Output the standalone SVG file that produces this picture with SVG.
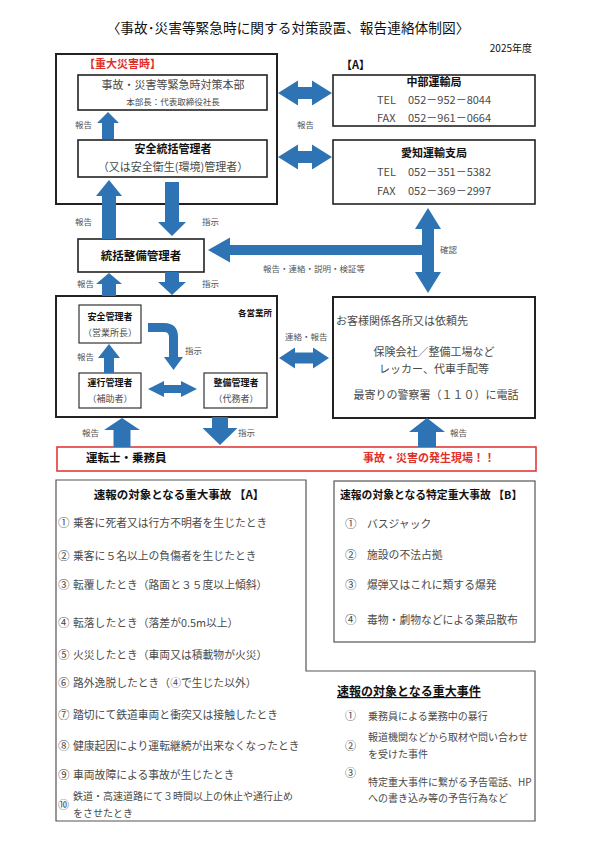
<svg xmlns="http://www.w3.org/2000/svg" width="595" height="841" viewBox="0 0 595 841">
<style>
text{font-family:"Noto Sans CJK JP","Noto Sans",sans-serif;fill:#4a4a4a;}
.b{font-weight:bold;fill:#111;}
.r{font-weight:bold;fill:#e0302a;}
.c{text-anchor:middle;}
.lbl{font-size:8.5px;fill:#555;}
.it{font-size:10.8px;}
.num{font-size:11.5px;}
.box{fill:#fff;stroke:#222;stroke-width:2;}
.ibox{fill:#fff;stroke:#222;stroke-width:1.6;}
.sbox{fill:#fff;stroke:#333;stroke-width:1.2;}
.gbox{fill:#fff;stroke:#555;stroke-width:1.2;}
.arr{fill:#2e74b5;stroke:none;}
</style>
<rect width="595" height="841" fill="#fff"/>
<text x="288" y="33" class="c" style="font-size:13.7px;fill:#111">〈事故･災害等緊急時に関する対策設置、報告連絡体制図〉</text>
<text x="532" y="52" style="font-size:10px;fill:#111;text-anchor:end">2025年度</text>

<g id="hq-group">
<rect class="box" x="56" y="54" width="221" height="150"/>
<text x="84" y="68" class="r" style="font-size:11px">【重大災害時】</text>
</g>
<g id="taisaku-honbu">
<rect class="ibox" x="78" y="75" width="189" height="35"/>
<text x="173" y="89" class="c" style="font-size:11px">事故・災害等緊急時対策本部</text>
<text x="173" y="105" class="c" style="font-size:8.5px">本部長：代表取締役社長</text>
</g>
<g id="anzen-tokatsu">
<rect class="ibox" x="78" y="140" width="189" height="37"/>
<text x="173" y="153" class="c b" style="font-size:11px">安全統括管理者</text>
<text x="173" y="171" class="c" style="font-size:11px">（又は安全衛生(環境)管理者）</text>
</g>
<g id="chubu">
<text x="341" y="69" class="b" style="font-size:11px">【A】</text>
<rect class="ibox" x="333" y="75" width="202" height="51"/>
<text x="434" y="86" class="c b" style="font-size:11px">中部運輸局</text>
<text y="104" style="font-size:11px"><tspan x="377">TEL</tspan><tspan x="408">052－952－8044</tspan></text>
<text y="122" style="font-size:11px"><tspan x="377">FAX</tspan><tspan x="408">052－961－0664</tspan></text>
</g>
<g id="aichi">
<rect class="ibox" x="333" y="140" width="202" height="64"/>
<text x="434" y="157" class="c b" style="font-size:11px">愛知運輸支局</text>
<text y="176" style="font-size:11px"><tspan x="377">TEL</tspan><tspan x="408">052－351－5382</tspan></text>
<text y="195" style="font-size:11px"><tspan x="377">FAX</tspan><tspan x="408">052－369－2997</tspan></text>
</g>
<g id="tokatsu-seibi">
<rect class="ibox" x="78" y="239" width="126" height="33"/>
<text x="141" y="260" class="c b" style="font-size:11.5px">統括整備管理者</text>
</g>
<g id="eigyosho">
<rect class="box" x="56" y="296" width="221" height="121"/>
<text x="272" y="316" class="b" style="font-size:8.5px;text-anchor:end">各営業所</text>
</g>
<g id="anzen-kanri">
<rect class="sbox" x="79" y="305" width="62" height="38"/>
<text x="110" y="320" class="c b" style="font-size:9px">安全管理者</text>
<text x="110" y="336" class="c" style="font-size:9px">（営業所長）</text>
</g>
<g id="unko-kanri">
<rect class="sbox" x="79" y="373" width="62" height="35"/>
<text x="110" y="386" class="c b" style="font-size:9px">運行管理者</text>
<text x="110" y="402" class="c" style="font-size:9px">（補助者）</text>
</g>
<g id="seibi-kanri">
<rect class="sbox" x="204" y="373" width="63" height="35"/>
<text x="236" y="386" class="c b" style="font-size:9px">整備管理者</text>
<text x="236" y="402" class="c" style="font-size:9px">（代務者）</text>
</g>
<g id="okyakusama">
<rect class="box" x="333" y="297" width="202" height="121"/>
<text x="336" y="325" style="font-size:11px">お客様関係各所又は依頼先</text>
<text x="434" y="356" class="c" style="font-size:11px">保険会社／整備工場など</text>
<text x="434" y="373" class="c" style="font-size:11px">レッカー、代車手配等</text>
<text x="436" y="399" class="c" style="font-size:11px">最寄りの警察署（１１０）に電話</text>
</g>
<g id="genba">
<rect x="57" y="447" width="479" height="24" fill="#fff" stroke="#e03a3a" stroke-width="1.6"/>
<text x="86" y="462" class="b" style="font-size:11.5px">運転士・乗務員</text>
<text x="363" y="462" class="r" style="font-size:11px">事故・災害の発生現場！！</text>
</g>

<g id="connectors">
<polygon class="arr" points="108,112 119,123 114,123 114,139 102,139 102,123 97,123"/>
<polygon class="arr" points="278,93 298,80.5 298,87 312,87 312,80.5 332,93 312,105.5 312,99 298,99 298,105.5"/>
<polygon class="arr" points="278,157 298,144.5 298,151 312,151 312,144.5 332,157 312,169.5 312,163 298,163 298,169.5"/>
<polygon class="arr" points="109,180 122,196 116,196 116,239 102,239 102,196 96,196"/>
<polygon class="arr" points="165,182 179,182 179,222 186,222 172,236 158,222 165,222"/>
<polygon class="arr" points="109,273 122,284 116,284 116,296 102,296 102,284 96,284"/>
<polygon class="arr" points="165,272 179,272 179,282 186,282 172,295 158,282 165,282"/>
<polygon class="arr" points="208,250 230,237.5 230,245 429,245 429,255 230,255 230,262.5"/>
<polygon class="arr" points="428,208 441,229 434,229 434,272 441,272 428,293 415,272 422,272 422,229 415,229"/>
<path class="arr" d="M148,323 L164,323 Q178,323 178,337 L178,357 L183,357 L173.5,370 L164,357 L169,357 L169,337 Q169,332 164,332 L148,332 Z"/>
<polygon class="arr" points="109,344 120,358 114,358 114,373 104,373 104,358 98,358"/>
<polygon class="arr" points="148,389 164,381 164,385 181,385 181,381 197,389 181,397 181,393 164,393 164,397"/>
<polygon class="arr" points="279,358 295,347.5 295,352.5 313,352.5 313,347.5 329,358 313,368.5 313,363.5 295,363.5 295,368.5"/>
<polygon class="arr" points="122,418 140,430 130.5,430 130.5,447 113.5,447 113.5,430 104,430"/>
<polygon class="arr" points="212,417 228,417 228,428 237.5,428 220,445 202.5,428 212,428"/>
<polygon class="arr" points="427,418 445,432 436,432 436,447 418,447 418,432 409,432"/>
<text x="75" y="128" class="lbl">報告</text>
<text x="297" y="128" class="lbl">報告</text>
<text x="75" y="225" class="lbl">報告</text>
<text x="202" y="225" class="lbl">指示</text>
<text x="263" y="272" class="lbl">報告・連絡・説明・検証等</text>
<text x="440" y="253" class="lbl">確認</text>
<text x="77" y="287" class="lbl">報告</text>
<text x="202" y="287" class="lbl">指示</text>
<text x="185" y="354" class="lbl">指示</text>
<text x="77" y="360" class="lbl">報告</text>
<text x="285" y="340" class="lbl">連絡・報告</text>
<text x="82" y="436" class="lbl">報告</text>
<text x="238" y="436" class="lbl">指示</text>
<text x="450" y="436" class="lbl">報告</text>
</g>

<g id="list-a">
<polygon class="gbox" points="56,480 306,480 306,671 535,671 535,821 56,821"/>
<text x="179" y="499" class="c b" style="font-size:11.5px">速報の対象となる重大事故 【A】</text>
<text x="58" y="527" class="num">①</text><text x="73" y="527" class="it">乗客に死者又は行方不明者を生じたとき</text>
<text x="58" y="560" class="num">②</text><text x="73" y="560" class="it">乗客に５名以上の負傷者を生じたとき</text>
<text x="58" y="589" class="num">③</text><text x="73" y="589" class="it">転覆したとき（路面と３５度以上傾斜）</text>
<text x="58" y="627" class="num">④</text><text x="73" y="627" class="it">転落したとき（落差が0.5m以上）</text>
<text x="58" y="659" class="num">⑤</text><text x="73" y="659" class="it">火災したとき（車両又は積載物が火災）</text>
<text x="58" y="687" class="num">⑥</text><text x="73" y="687" class="it">路外逸脱したとき（④で生じた以外）</text>
<text x="58" y="719" class="num">⑦</text><text x="73" y="719" class="it">踏切にて鉄道車両と衝突又は接触したとき</text>
<text x="58" y="750" class="num">⑧</text><text x="73" y="750" class="it">健康起因により運転継続が出来なくなったとき</text>
<text x="58" y="779" class="num">⑨</text><text x="73" y="779" class="it">車両故障による事故が生じたとき</text>
<text x="58" y="809" style="font-size:11px">⑩</text>
<text x="73" y="800" style="font-size:10px">鉄道・高速道路にて３時間以上の休止や通行止め</text>
<text x="73" y="817" style="font-size:10px">をさせたとき</text>
</g>
<g id="list-b">
<rect class="gbox" x="334" y="481" width="201" height="161"/>
<text x="340" y="499" class="b" style="font-size:10.8px">速報の対象となる特定重大事故 【B】</text>
<text x="345" y="528" class="num">①</text>
<text x="367" y="528" class="it">バスジャック</text>
<text x="345" y="559" class="num">②</text>
<text x="367" y="559" class="it">施設の不法占拠</text>
<text x="345" y="589" class="num">③</text>
<text x="367" y="589" class="it">爆弾又はこれに類する爆発</text>
<text x="345" y="624" class="num">④</text>
<text x="367" y="624" class="it">毒物・劇物などによる薬品散布</text>
</g>
<g id="list-jiken">
<text x="337" y="696" class="b" style="font-size:12px;text-decoration:underline">速報の対象となる重大事件</text>
<text x="345" y="720" style="font-size:11px">①</text>
<text x="368" y="720" style="font-size:10px">乗務員による業務中の暴行</text>
<text x="345" y="750" style="font-size:11px">②</text>
<text x="368" y="741" style="font-size:10px">報道機関などから取材や問い合わせ</text>
<text x="368" y="758" style="font-size:10px">を受けた事件</text>
<text x="345" y="777" style="font-size:11px">③</text>
<text x="368" y="786" style="font-size:10px">特定重大事件に繋がる予告電話、HP</text>
<text x="368" y="802" style="font-size:10px">への書き込み等の予告行為など</text>
</g>
</svg>
